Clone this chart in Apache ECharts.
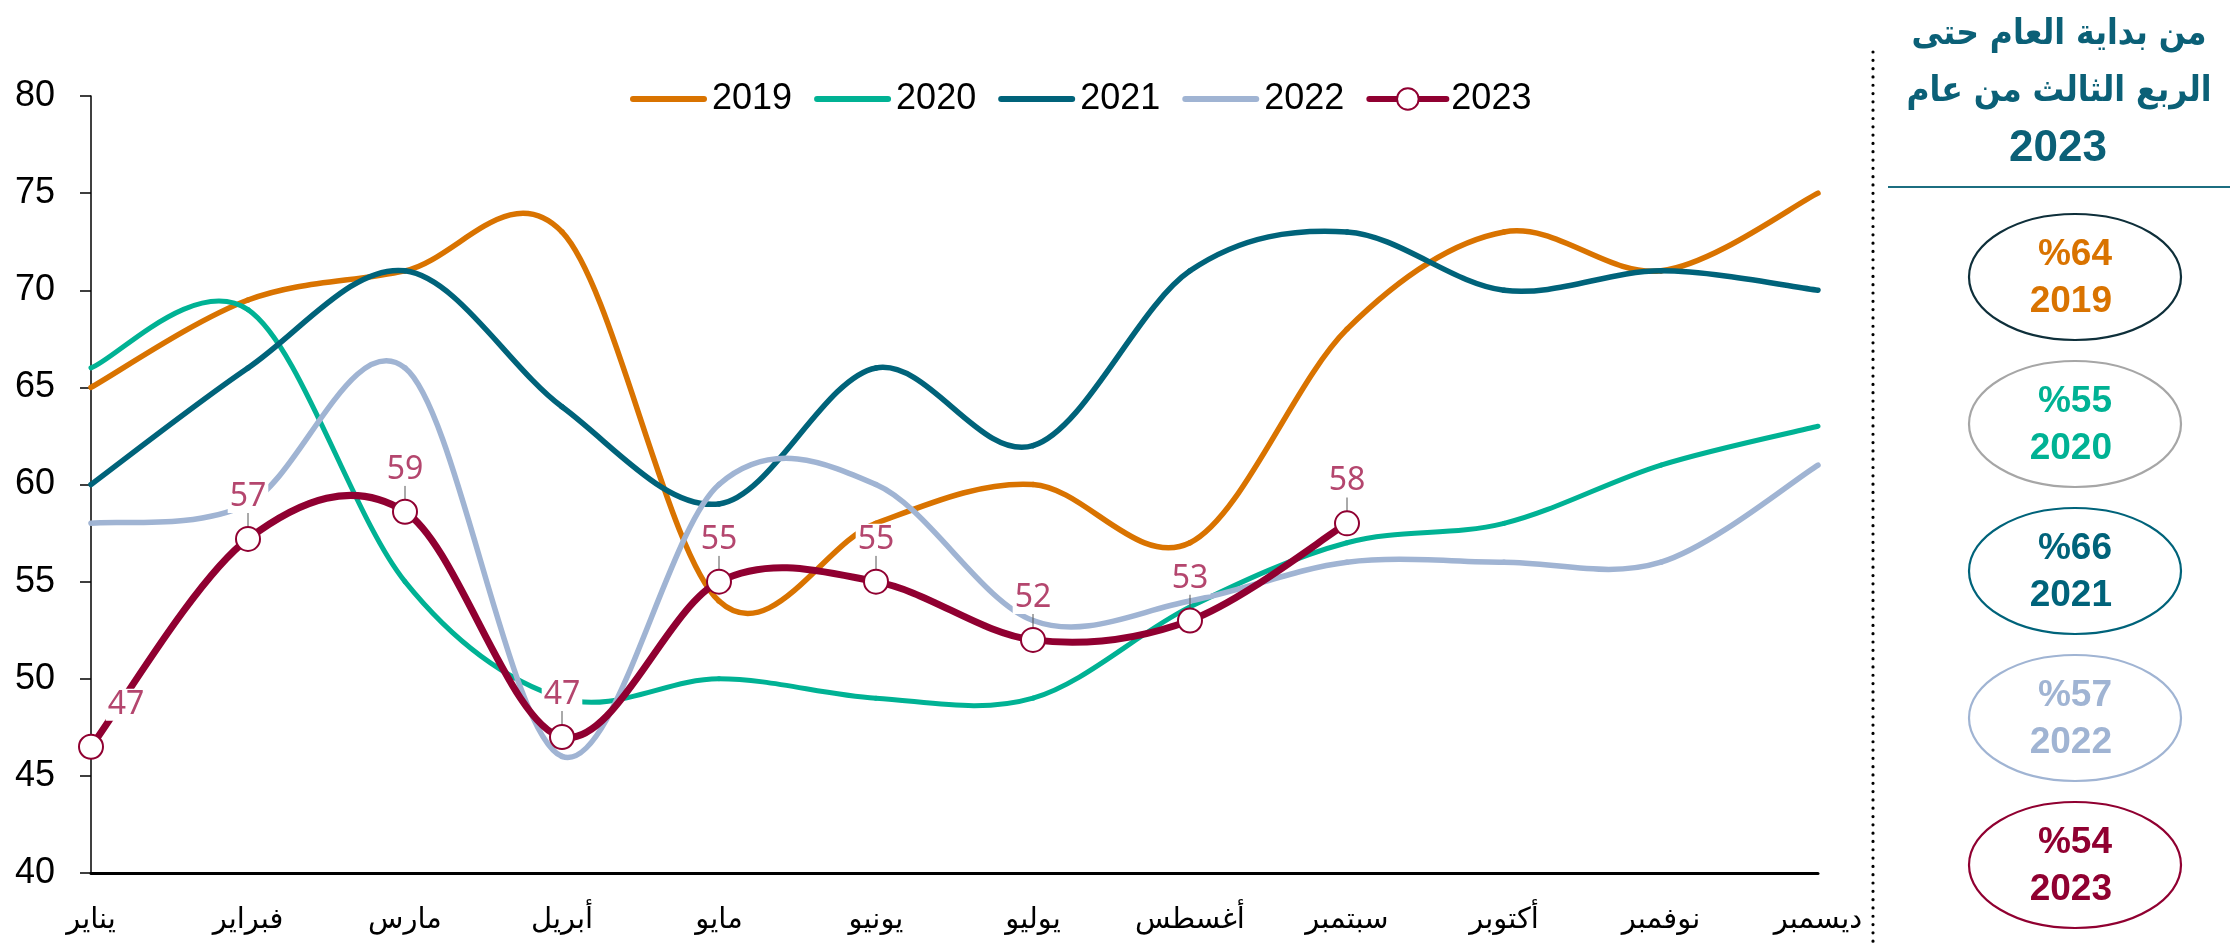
<!DOCTYPE html>
<html>
<head>
<meta charset="utf-8">
<script src="https://cdn.jsdelivr.net/npm/echarts@6/dist/echarts.min.js"></script>
<style>
html,body{margin:0;padding:0;background:#fff;}
#chart{width:2236px;height:945px;}
</style>
</head>
<body>
<div id="chart"></div>
<script>
// ---- data ----
const months = ['يناير','فبراير','مارس','أبريل','مايو','يونيو','يوليو','أغسطس','سبتمبر','أكتوبر','نوفمبر','ديسمبر'];
const s2019 = [65, 69.5, 71, 73, 54, 58, 60, 57, 68, 73, 71, 75];
const s2020 = [66, 69, 55, 49, 50, 49, 49, 53.7, 57, 58, 61, 63];
const s2021 = [60, 66, 71, 64, 59, 66, 62, 71, 73, 70, 71, 70];
const s2022 = [58, 59, 66, 46, 60, 60, 53, 54, 56, 56, 56, 61];
const s2023 = [46.5, 57.2, 58.6, 47, 55, 55, 52, 53, 58, null, null, null];
const yTicks = [40, 80, 5]; // min, max, interval
const ytdYears = ['2019','2020','2021','2022','2023'];
const ytdValues = [64, 55, 66, 57, 54];
const titleLines = ['من بداية العام حتى', 'الربع الثالث من عام', '2023'];

// ---- styles ----
const colors = {'2019':'#D97300','2020':'#00B294','2021':'#00637A','2022':'#A0B4D3','2023':'#900031'};
const widths = {'2019':5.5,'2020':5,'2021':5.5,'2022':5.5,'2023':7};
const ellipseBorders = ['#0E2F3A','#A6A6A6','#00637A','#A0B4D3','#900031'];
const LAT = '"Liberation Sans", Arial, "DejaVu Sans", sans-serif';
const AR = '"DejaVu Sans Condensed", "DejaVu Sans", sans-serif';
const seriesData = {'2019':s2019,'2020':s2020,'2021':s2021,'2022':s2022,'2023':s2023};

// Excel-like (Catmull-Rom) smoothing drawn segment by segment through the axis scales
function curveSeries(name, z){
  const arr = seriesData[name];
  return {
    name: '_c' + name, type:'custom', z: z, silent:true, clip:false,
    data: arr.map((v,i)=>[i, v]),
    encode:{x:0, y:1},
    renderItem: function(params, api){
      const i = params.dataIndex;
      if (i >= arr.length - 1 || arr[i] == null || arr[i+1] == null) return null;
      const c = k => api.coord([k, arr[k]]);
      const p1 = c(i), p2 = c(i+1);
      const p0 = (i > 0 && arr[i-1] != null) ? c(i-1) : p1;
      const p3 = (i + 2 < arr.length && arr[i+2] != null) ? c(i+2) : p2;
      return {
        type:'bezierCurve',
        shape:{x1:p1[0], y1:p1[1], x2:p2[0], y2:p2[1],
          cpx1:p1[0] + (p2[0]-p0[0])/6, cpy1:p1[1] + (p2[1]-p0[1])/6,
          cpx2:p2[0] - (p3[0]-p1[0])/6, cpy2:p2[1] - (p3[1]-p1[1])/6},
        style:{stroke: colors[name], lineWidth: widths[name], fill:null, lineCap:'round'}
      };
    }
  };
}

function legendSeries(name){
  return {
    name: name, type:'line', data: seriesData[name], symbol:'none', z:1, silent:true,
    lineStyle:{color: colors[name], width: widths[name], opacity:0},
    itemStyle:{color: colors[name]},
    emphasis:{disabled:true}
  };
}

const barIcon = 'path://M3,0H74A3,3,0,0,1,74,6H3A3,3,0,0,1,3,0Z';

const graphics = [];
graphics.push({type:'line', shape:{x1:1873,y1:52,x2:1873,y2:945},
  style:{stroke:'#000', lineWidth:3.2, lineDash:[0.01,8.3], lineCap:'round'}, silent:true});
graphics.push({type:'text', x:2059, y:35, style:{text: titleLines[0], textAlign:'center', textVerticalAlign:'middle',
  font:'bold 35px '+AR, fill:'#0B6077'}});
graphics.push({type:'text', x:2059, y:92, style:{text: titleLines[1], textAlign:'center', textVerticalAlign:'middle',
  font:'bold 35px '+AR, fill:'#0B6077'}});
graphics.push({type:'text', x:2058, y:149, style:{text: titleLines[2], textAlign:'center', textVerticalAlign:'middle',
  font:'bold 44px '+LAT, fill:'#0B6077'}});
graphics.push({type:'line', shape:{x1:1888,y1:187,x2:2230,y2:187}, style:{stroke:'#1C6E80', lineWidth:2}});
ytdYears.forEach((y,i)=>{
  const cy = 277 + 147*i;
  graphics.push({type:'ellipse', shape:{cx:2075, cy:cy, rx:106, ry:63}, style:{fill:'#fff', stroke: ellipseBorders[i], lineWidth:2.2}});
  graphics.push({type:'text', x:2112, y:cy+1, style:{text:'%'+ytdValues[i]+'\n'+y, textAlign:'right', textVerticalAlign:'middle',
    font:'bold 37px '+LAT, lineHeight:47, fill: colors[y]}});
});

const d2023 = s2023.map((v,i)=> i === 0 ? {value:v, labelLine:{show:false}} : v);

const option = {
  animation:false,
  backgroundColor:'#fff',
  grid:{left:91, right:418, top:96, bottom:72, containLabel:false},
  legend:{
    left:625, top:76, itemWidth:77, itemHeight:27, itemGap:22,
    textStyle:{fontSize:36, fontFamily:LAT, color:'#000'},
    lineStyle:{width:6, opacity:1, cap:'round'},
    data: [
      {name:'2019', icon: barIcon},
      {name:'2020', icon: barIcon},
      {name:'2021', icon: barIcon},
      {name:'2022', icon: barIcon},
      {name:'2023'}
    ]
  },
  xAxis:{
    type:'category', data: months, boundaryGap:false,
    axisLine:{lineStyle:{color:'#000', width:3}},
    axisTick:{show:false},
    axisLabel:{fontSize:29, fontFamily:'"DejaVu Sans", sans-serif', color:'#000', margin:33}
  },
  yAxis:{
    type:'value', min: yTicks[0], max: yTicks[1], interval: yTicks[2],
    axisLine:{show:true, lineStyle:{color:'#000', width:1.5}},
    axisTick:{show:true, length:11, lineStyle:{color:'#000', width:1.5}},
    splitLine:{show:false},
    axisLabel:{fontSize:36, fontFamily:LAT, color:'#000', margin:36}
  },
  series:[
    legendSeries('2019'), legendSeries('2020'), legendSeries('2021'), legendSeries('2022'),
    curveSeries('2019', 2),
    curveSeries('2020', 3),
    curveSeries('2021', 4),
    curveSeries('2022', 5),
    curveSeries('2023', 9),
    {
      name:'2023', type:'line', data: d2023, z:10,
      symbol:'circle', symbolSize:24, showAllSymbol:true,
      itemStyle:{color:'#fff', borderColor:'#900031', borderWidth:2},
      lineStyle:{color:'#900031', width:7, opacity:0},
      label:{show:true, position:'top', distance:6, color:'#B4466E', fontSize:32, fontFamily:'"Noto Sans", sans-serif',
        backgroundColor:'#fff', padding:[0,2,0,2], formatter: p => Math.round(p.value)},
      labelLayout: p => p.dataIndex === 0 ? {dx:35, dy:-7} : {dy:-7},
      labelLine:{show:true, lineStyle:{color:'#555', width:1}},
      emphasis:{disabled:true}
    }
  ],
  graphic: graphics
};

const chart = echarts.init(document.getElementById('chart'));
chart.setOption(option);
</script>
</body>
</html>
